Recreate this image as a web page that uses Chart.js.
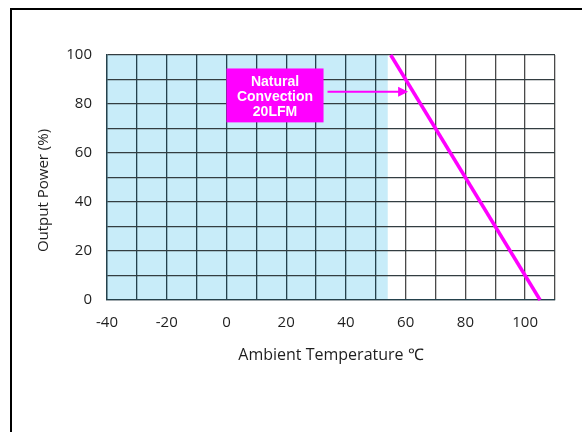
<!DOCTYPE html>
<html>
<head>
<meta charset="utf-8">
<script src="https://cdn.jsdelivr.net/npm/chart.js@4.4.1/dist/chart.umd.min.js"></script>
<style>
  html, body { margin: 0; padding: 0; background: #fff; }
  #wrap { position: relative; width: 582px; height: 432px; overflow: hidden; }
  #frame { position: absolute; left: 10px; top: 8px; right: -6px; bottom: -6px;
           border-top: 2px solid #000; border-left: 2px solid #000; }
  canvas { position: absolute; left: 0; top: 0; }
</style>
</head>
<body>
<div id="wrap">
  <div id="frame"></div>
  <canvas id="chart" width="582" height="432"></canvas>
</div>
<script>
// Derating curve: output power (%) versus ambient temperature (°C)
const deratingTemps = [55, 105];
const deratingPower = [100, 0];

// Full-power operating zone (shaded)
const fullPowerZone = [-40, 54];

// Axis ranges and labelling
const tempRange = [-40, 110];
const powerRange = [0, 100];
const gridStep = 10;
const labelStep = 20;

// Callout text
const calloutLines = ['Natural', 'Convection', '20LFM'];
const calloutPower = 85;

const xTitle = 'Ambient Temperature \u2103';
const yTitle = 'Output Power (%)';

const tickFont = { family: "'Open Sans', sans-serif", size: 15 };
const titleFont = { family: "'Open Sans', sans-serif", size: 16 };

function gridColorFor(ctx) {
  const v = ctx.tick ? ctx.tick.value : 0;
  return v <= fullPowerZone[1] ? '#24414c' : '#4a4a4a';
}

// Shaded zone drawn beneath the grid
const zonePlugin = {
  id: 'zone',
  beforeDraw(chart) {
    const { ctx, chartArea, scales: { x } } = chart;
    const x0 = x.getPixelForValue(fullPowerZone[0]);
    const x1 = x.getPixelForValue(fullPowerZone[1]);
    ctx.save();
    ctx.fillStyle = '#c8ecf9';
    ctx.fillRect(x0, chartArea.top, x1 - x0, chartArea.bottom - chartArea.top);
    ctx.restore();
  }
};

// Vertical axis title, set a little below the middle of the axis
const yTitlePlugin = {
  id: 'yTitle',
  afterDraw(chart) {
    const { ctx, scales: { y } } = chart;
    ctx.save();
    ctx.translate(y.left + 9, (y.top + y.bottom) / 2 + 13);
    ctx.rotate(-Math.PI / 2);
    ctx.font = "15px 'Open Sans', sans-serif";
    ctx.fillStyle = '#1e1e1e';
    ctx.textAlign = 'center';
    ctx.textBaseline = 'middle';
    ctx.fillText(yTitle, 0, 0);
    ctx.restore();
  }
};

// Callout box with arrow pointing at the curve
const calloutPlugin = {
  id: 'callout',
  afterDatasetsDraw(chart) {
    const { ctx, scales: { x, y } } = chart;
    const bx0 = x.getPixelForValue(0);
    const bx1 = x.getPixelForValue(32.5);
    const by0 = y.getPixelForValue(94.5);
    const by1 = y.getPixelForValue(72.5);
    ctx.save();
    ctx.fillStyle = '#ff00ff';
    ctx.fillRect(bx0, by0, bx1 - bx0, by1 - by0);
    ctx.fillStyle = '#ffffff';
    ctx.font = "bold 14px 'Liberation Sans', Arial, sans-serif";
    ctx.textAlign = 'center';
    ctx.textBaseline = 'middle';
    const cx = (bx0 + bx1) / 2;
    const cy = (by0 + by1) / 2 + 1.5;
    const lh = 15;
    calloutLines.forEach((t, i) => {
      ctx.fillText(t, cx, cy + (i - (calloutLines.length - 1) / 2) * lh);
    });
    // arrow to the curve at the callout power level
    const slope = (deratingPower[1] - deratingPower[0]) / (deratingTemps[1] - deratingTemps[0]);
    const tempOnCurve = deratingTemps[0] + (calloutPower - deratingPower[0]) / slope;
    const ay = y.getPixelForValue(calloutPower);
    const ax0 = bx1 + 4;
    const ax1 = x.getPixelForValue(tempOnCurve) - 5;
    ctx.strokeStyle = '#ff00ff';
    ctx.fillStyle = '#ff00ff';
    ctx.lineWidth = 2;
    ctx.beginPath();
    ctx.moveTo(ax0, ay);
    ctx.lineTo(ax1 - 6, ay);
    ctx.stroke();
    ctx.beginPath();
    ctx.moveTo(ax1, ay);
    ctx.lineTo(ax1 - 10, ay - 5);
    ctx.lineTo(ax1 - 10, ay + 5);
    ctx.closePath();
    ctx.fill();
    ctx.restore();
  }
};

new Chart(document.getElementById('chart'), {
  type: 'scatter',
  data: {
    datasets: [{
      data: deratingTemps.map((t, i) => ({ x: t, y: deratingPower[i] })),
      showLine: true,
      borderColor: '#ff00ff',
      borderWidth: 3.5,
      pointRadius: 0,
      clip: false
    }]
  },
  options: {
    responsive: false,
    animation: false,
    events: [],
    layout: { padding: { left: 35, right: 27, top: 55, bottom: 67 } },
    plugins: { legend: { display: false }, tooltip: { enabled: false } },
    scales: {
      x: {
        type: 'linear',
        min: tempRange[0],
        max: tempRange[1],
        afterFit(s) { s.height = 65; },
        ticks: {
          stepSize: gridStep,
          autoSkip: false,
          maxRotation: 0,
          padding: 14,
          color: '#1e1e1e',
          font: tickFont,
          callback: v => (v % labelStep === 0 ? String(v) : '')
        },
        grid: { color: gridColorFor, lineWidth: 1.3, drawTicks: false },
        border: { color: '#24414c', width: 1.3 },
        title: { display: true, text: xTitle, color: '#1e1e1e', font: titleFont, padding: { top: 0, bottom: 0 } }
      },
      y: {
        min: powerRange[0],
        max: powerRange[1],
        afterFit(s) { s.width = 72; },
        ticks: {
          stepSize: gridStep,
          autoSkip: false,
          padding: 15,
          color: '#1e1e1e',
          font: tickFont,
          callback: v => (v % labelStep === 0 ? String(v) : '')
        },
        grid: { color: '#333d41', lineWidth: 1.3, drawTicks: false },
        border: { color: '#24414c', width: 1.3 }
      }
    }
  },
  plugins: [zonePlugin, calloutPlugin, yTitlePlugin]
});
</script>
</body>
</html>
